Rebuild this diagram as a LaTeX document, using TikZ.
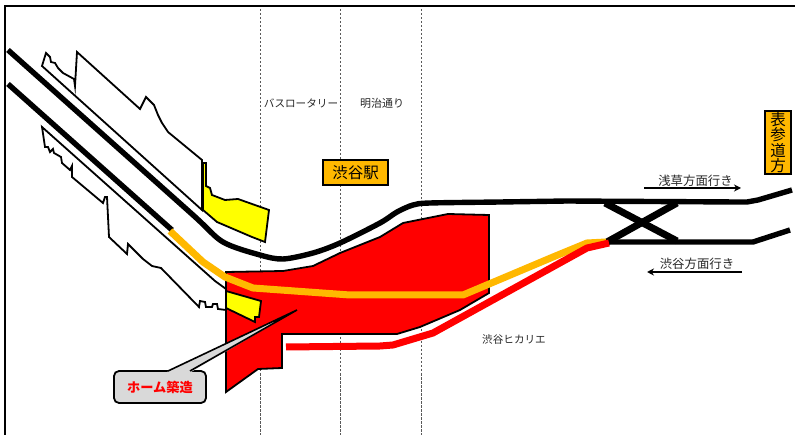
\documentclass[tikz,border=0pt]{standalone}
\usepackage{fontspec}
\setmainfont{Noto Sans CJK JP}
\usetikzlibrary{arrows.meta}
\definecolor{amber}{RGB}{255,184,0}
\definecolor{pure}{RGB}{255,0,0}
\definecolor{yel}{RGB}{255,255,0}
\definecolor{calloutgray}{RGB}{217,217,217}
\tikzset{
  x=1pt,y=-1pt,
  track/.style={line width=5.4pt,black,line join=round},
  crossing/.style={line width=7pt,black},
  divider/.style={line width=1pt,dash pattern=on 2.5pt off 1.5pt,black!65},
  plan/.style={line width=1.8pt,black,fill=white,line join=miter},
  area/.style={line width=1.8pt,black,line join=miter},
  lbl/.style={font=\fontsize{10.6}{11}\selectfont,text=black!85,inner sep=0pt},
  dirlbl/.style={font=\fontsize{12.4}{13}\selectfont,text=black!85,inner sep=0pt},
  sign/.style={draw=black,line width=2pt,fill=amber,inner sep=0pt,font=\fontsize{15.5}{16}\selectfont},
  dirarrow/.style={line width=1.2pt,-{Stealth[length=7pt,width=7pt]}},
}
\begin{document}
\begin{tikzpicture}
\useasboundingbox (0,0) rectangle (795,435);
% frame
\draw[line width=2.2pt] (5,435) -- (5,6) -- (795,6);
% dividers
\draw[divider] (260,9) -- (260,435);
\draw[divider] (340,9) -- (340,435);
\draw[divider] (421,9) -- (421,435);
% upper-left building
\draw[plan] (42,66) -- (46,53) -- (50,57) -- (51,62) -- (55,63) -- (58,68) -- (63,73) -- (74,79) -- (75,86) -- (77,52) -- (140,109) -- (146,97) -- (154,105) -- (158,115) -- (162,123) -- (168,132) -- (202,160) -- (202,210) -- cycle;
% lower-left building
\draw[plan] (42,127) -- (45,147) -- (48,147) -- (50,152) -- (53,149) -- (54,153) -- (61,157) -- (62,163) -- (70,170) -- (72,166) -- (72,177) -- (103,203) -- (105,197) -- (107,197) -- (109,237) -- (127,254) -- (128,244) -- (143,259) -- (152,266) -- (161,268) -- (199,307) -- (200,301) -- (205,302) -- (206,307) -- (212,307) -- (213,304) -- (217,304) -- (218,309) -- (226,310) -- (226,289) -- (215,281) -- cycle;
% yellow upper
\draw[area,fill=yel] (203,163) -- (206,163) -- (206,186) -- (210,188) -- (212,195) -- (225,200) -- (238,199) -- (269,210) -- (265,242) -- (252,237) -- (217,222) -- (203,210) -- cycle;
% red area
\draw[area,fill=pure] (226,272) -- (283,271) -- (313,266) -- (340,253) -- (380,237) -- (403,223) -- (448,214) -- (489,215) -- (489,293) -- (460,310) -- (420,327) -- (397,334) -- (282,334) -- (282,368) -- (258,369) -- (226,392) -- cycle;
% yellow lower
\draw[area,fill=yel] (226,291) -- (261,301) -- (259,317) -- (255,317) -- (255,322) -- (226,308) -- cycle;
% callout
\node[draw=black,line width=1.8pt,fill=calloutgray,rounded corners=5pt,minimum width=92pt,minimum height=32pt,inner sep=0pt,text=pure,font=\bfseries\fontsize{13.2}{14}\selectfont] (callout) at (160,387) {ホーム築造};
\coordinate (tip) at (297,310);
\fill[calloutgray] (167,372) -- (tip) -- (191,372) -- cycle;
\draw[line width=1.6pt,line join=miter] (168,371) -- (tip) -- (190,371);
% crossover
\draw[crossing] (605,203) -- (677,241);
\draw[crossing] (677,203) -- (607,242);
% tracks
\draw[track] plot[smooth,tension=.5] coordinates {(8,50) (100,132) (193,215) (223,242) (260,255) (283,259) (313,253) (340,243) (380,223) (397,212) (413,205) (430,203) (500,202) (567,201)};
\draw[track] (567,201) -- (737,202) -- (747,202) -- (758,200) -- (792,190);
\draw[track] (8,84) -- (172,230);
\draw[track] (605,242) -- (753,242) -- (790,230);
% orange line
\draw[line width=7pt,amber,line join=round] (170,231) -- (203,262) -- (225,277) -- (253,288) -- (350,295) -- (463,295) -- (553,257) -- (587,243) -- (606,242);
% red line
\draw[line width=7pt,pure,line join=round] (286,347) -- (380,346) -- (393,345) -- (433,333) -- (587,248) -- (609,243);
% labels
\node[lbl] (bus) at (301,103) {バスロータリー};
\node[lbl,font=\fontsize{11}{11}\selectfont] (meiji) at (382,103) {明治通り};
\node[lbl] (hikarie) at (514,339) {渋谷ヒカリエ};
\node[sign,minimum width=65pt,minimum height=25pt] (station) at (355.5,172.5) {渋谷駅};
\node[sign,minimum width=26pt,minimum height=63pt,align=center,font=\fontsize{15.5}{15.5}\selectfont] (omote) at (778,142.5) {表\\参\\道\\方};
\node[dirlbl] (asakusa) at (695.5,181) {浅草方面行き};
\node[dirlbl] (shibuya) at (697,264) {渋谷方面行き};
\coordinate (a1) at (644,188); \coordinate (a2) at (741,188);
\coordinate (b1) at (742,272); \coordinate (b2) at (647,272);
\draw[dirarrow] (a1) -- (a2);
\draw[dirarrow] (b1) -- (b2);
\end{tikzpicture}
\end{document}
